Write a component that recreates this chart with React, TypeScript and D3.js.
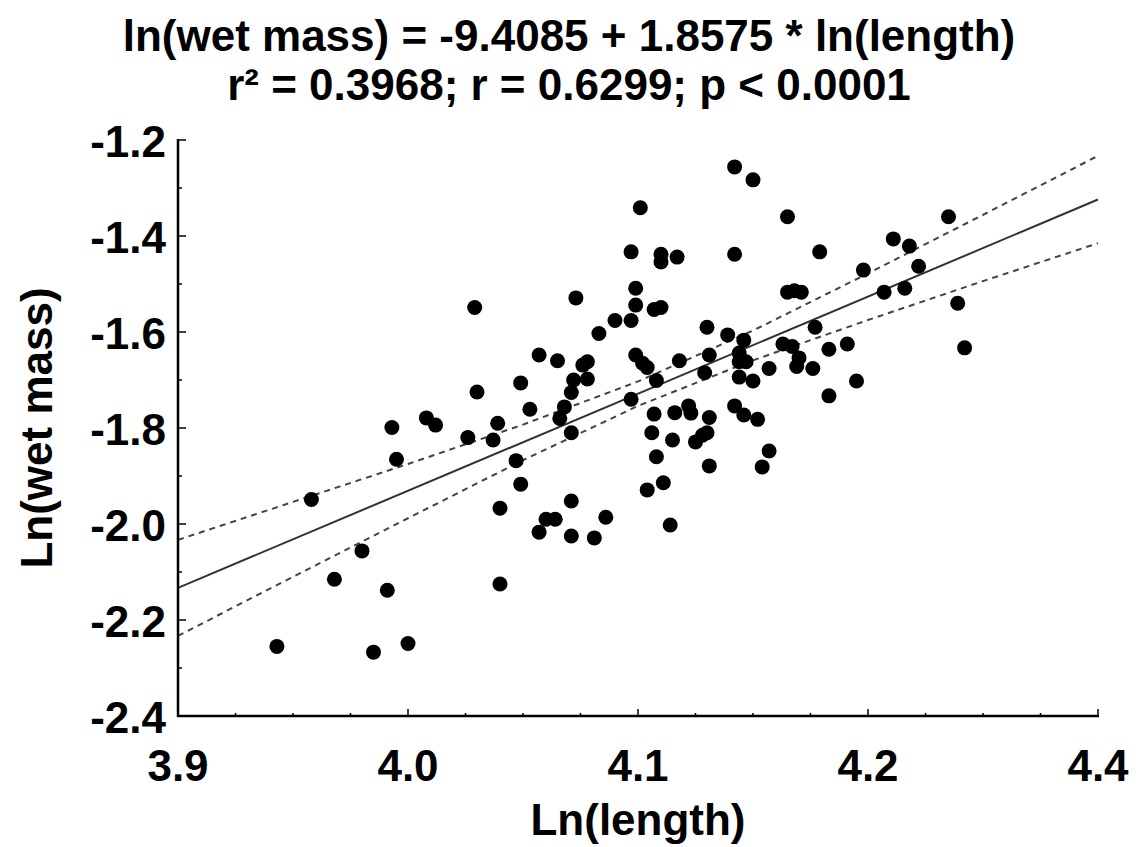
import React from "react";
import * as d3 from "d3";

// Data
const lnLength = [
  3.943, 3.958, 3.968, 3.980, 3.985, 3.991, 3.993, 3.995, 4.000, 4.008,
  4.012, 4.026, 4.029, 4.030, 4.037, 4.039, 4.040, 4.040, 4.047, 4.049,
  4.049, 4.053, 4.057, 4.057, 4.060, 4.064, 4.065, 4.066, 4.068, 4.071,
  4.071, 4.071, 4.071, 4.072, 4.073, 4.076, 4.078, 4.078, 4.081, 4.083,
  4.086, 4.090, 4.097, 4.097, 4.097, 4.099, 4.099, 4.099, 4.101, 4.102,
  4.104, 4.104, 4.106, 4.107, 4.107, 4.108, 4.108, 4.110, 4.110, 4.110,
  4.111, 4.114, 4.115, 4.116, 4.117, 4.118, 4.122, 4.123, 4.125, 4.128,
  4.130, 4.129, 4.130, 4.131, 4.131, 4.131, 4.139, 4.142, 4.142, 4.142,
  4.144, 4.144, 4.147, 4.144, 4.146, 4.146, 4.150, 4.150, 4.152, 4.154,
  4.157, 4.157, 4.163, 4.165, 4.165, 4.167, 4.168, 4.169, 4.170, 4.171,
  4.176, 4.177, 4.179, 4.183, 4.183, 4.191, 4.195, 4.198, 4.207, 4.211,
  4.216, 4.218, 4.222, 4.235, 4.239, 4.242,
];
const lnWetMass = [
  -2.255, -1.949, -2.115, -2.056, -2.267, -2.138, -1.799, -1.865, -2.249, -1.779,
  -1.794, -1.820, -1.549, -1.725, -1.825, -1.790, -1.967, -2.125, -1.868, -1.706,
  -1.917, -1.761, -1.648, -2.017, -1.990, -1.990, -1.660, -1.780, -1.756, -1.726,
  -1.810, -1.952, -2.025, -1.700, -1.529, -1.669, -1.662, -1.698, -2.029, -1.603,
  -1.986, -1.576, -1.433, -1.576, -1.740, -1.509, -1.544, -1.648, -1.341, -1.665,
  -1.929, -1.674, -1.810, -1.553, -1.771, -1.701, -1.860, -1.438, -1.454, -1.549,
  -1.914, -2.002, -1.825, -1.768, -1.444, -1.660, -1.754, -1.769, -1.829, -1.815,
  -1.810, -1.685, -1.590, -1.648, -1.778, -1.879, -1.606, -1.256, -1.438, -1.754,
  -1.644, -1.662, -1.662, -1.694, -1.617, -1.773, -1.283, -1.702, -1.782, -1.881,
  -1.676, -1.848, -1.625, -1.360, -1.517, -1.630, -1.514, -1.672, -1.654, -1.517,
  -1.676, -1.590, -1.433, -1.636, -1.733, -1.625, -1.702, -1.471, -1.517, -1.406,
  -1.509, -1.421, -1.463, -1.360, -1.540, -1.633,
];

const xTickValues = [3.9, 4.0, 4.1, 4.2, 4.3];
const xTickLabels = ["3.9", "4.0", "4.1", "4.2", "4.4"];
const yTickValues = [-1.2, -1.4, -1.6, -1.8, -2.0, -2.2, -2.4];
const yTickLabels = ["-1.2", "-1.4", "-1.6", "-1.8", "-2.0", "-2.2", "-2.4"];

const fitX = [3.9, 4.3];
const fitY = [-2.133, -1.324];
const bandX = [3.9, 3.95, 4.0, 4.05, 4.1, 4.15, 4.2, 4.25, 4.3];
const bandUpper = [-2.033, -1.954, -1.875, -1.793, -1.703, -1.597, -1.478, -1.356, -1.233];
const bandLower = [-2.233, -2.11, -1.988, -1.867, -1.754, -1.659, -1.575, -1.494, -1.415];

const titleLine1 = "ln(wet mass) = -9.4085 + 1.8575 * ln(length)";
const titleLine2 = "r² = 0.3968; r = 0.6299; p < 0.0001";
const xAxisTitle = "Ln(length)";
const yAxisTitle = "Ln(wet mass)";

const W = 1139;
const H = 847;
const left = 178;
const right = 1098;
const top = 140;
const bottom = 716;
const FONT = "'Liberation Sans', Arial, sans-serif";

export default function App() {
  const x = d3.scaleLinear().domain([3.9, 4.3]).range([left, right]);
  const y = d3.scaleLinear().domain([-2.4, -1.2]).range([bottom, top]);

  const xMinor = d3.range(0, 17).map((i) => 3.9 + i * 0.025);
  const yMinor = d3.range(0, 13).map((i) => -2.4 + i * 0.1);

  const line = d3
    .line<[number, number]>()
    .x((d) => x(d[0]))
    .y((d) => y(d[1]));

  const fitPath = line(fitX.map((v, i) => [v, fitY[i]] as [number, number])) || "";
  const upPath = line(bandX.map((v, i) => [v, bandUpper[i]] as [number, number])) || "";
  const loPath = line(bandX.map((v, i) => [v, bandLower[i]] as [number, number])) || "";

  return (
    <svg
      width={W}
      height={H}
      style={{ position: "absolute", left: 0, top: 0, background: "#fff" }}
      fontFamily={FONT}
      fontWeight="bold"
    >
      <rect x={0} y={0} width={W} height={H} fill="#fff" />
      <text x={569} y={51} textAnchor="middle" fontSize={44}>
        {titleLine1}
      </text>
      <text x={569} y={100} textAnchor="middle" fontSize={44}>
        {titleLine2}
      </text>

      {/* confidence band and fit */}
      <path d={upPath} fill="none" stroke="#444" strokeWidth={2} strokeDasharray="6,5" />
      <path d={loPath} fill="none" stroke="#444" strokeWidth={2} strokeDasharray="6,5" />
      <path d={fitPath} fill="none" stroke="#333" strokeWidth={2} />

      {/* points */}
      {lnLength.map((v, i) => (
        <circle key={i} cx={x(v)} cy={y(lnWetMass[i])} r={7.5} fill="#000" />
      ))}

      {/* axes */}
      <line x1={left} y1={top - 1} x2={left} y2={bottom + 1} stroke="#000" strokeWidth={2.5} />
      <line x1={left - 1} y1={bottom} x2={right + 1} y2={bottom} stroke="#000" strokeWidth={2.5} />

      {xMinor.map((v, i) => (
        <line key={"xm" + i} x1={x(v)} x2={x(v)} y1={bottom} y2={bottom - (i % 4 === 0 ? 7 : 3)} stroke="#000" strokeWidth={1.5} />
      ))}
      {yMinor.map((v, i) => (
        <line key={"ym" + i} x1={left} x2={left + (i % 2 === 0 ? 8 : 4)} y1={y(v)} y2={y(v)} stroke="#000" strokeWidth={1.5} />
      ))}

      {xTickValues.map((v, i) => (
        <text key={"xt" + i} x={x(v)} y={781} textAnchor="middle" fontSize={44}>
          {xTickLabels[i]}
        </text>
      ))}
      {yTickValues.map((v, i) => (
        <text key={"yt" + i} x={166} y={y(v) + 17} textAnchor="end" fontSize={44}>
          {yTickLabels[i]}
        </text>
      ))}

      <text x={(left + right) / 2} y={835} textAnchor="middle" fontSize={44}>
        {xAxisTitle}
      </text>
      <text
        transform={`translate(52, ${(top + bottom) / 2}) rotate(-90)`}
        textAnchor="middle"
        fontSize={44}
      >
        {yAxisTitle}
      </text>
    </svg>
  );
}
